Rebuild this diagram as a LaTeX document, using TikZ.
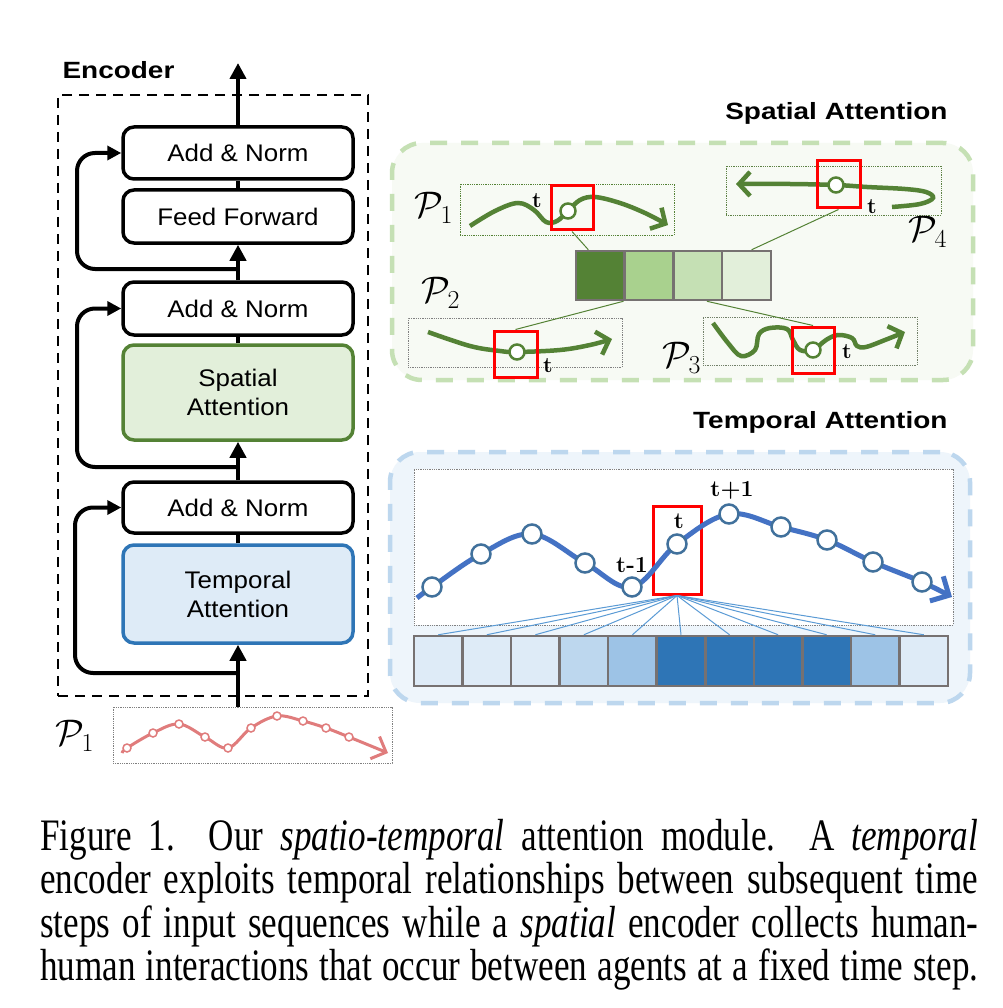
\RequirePackage{fix-cm}
\documentclass[tikz,border=0pt]{standalone}
\usepackage[no-math]{fontspec}
\setmainfont{Liberation Serif}
\setsansfont{Liberation Sans}
\newfontfamily\capfont{Liberation Serif}[FakeStretch=0.78]
\newfontfamily\titlefont{Liberation Sans}[FakeStretch=1.19]
\newfontfamily\boxfont{Liberation Sans}[FakeStretch=1.08]
\newfontfamily\lmfont{Latin Modern Roman}
\usetikzlibrary{arrows.meta,positioning}

\definecolor{sgreen}{HTML}{548235}
\definecolor{sgreenA}{HTML}{A9D18E}
\definecolor{sgreenB}{HTML}{C5E0B4}
\definecolor{sgreenC}{HTML}{E2EFDA}
\definecolor{spanel}{HTML}{F7FAF4}
\definecolor{tblue}{HTML}{2E75B6}
\definecolor{tblueA}{HTML}{9DC3E6}
\definecolor{tblueB}{HTML}{BDD7EE}
\definecolor{tblueC}{HTML}{DEEBF7}
\definecolor{tpanel}{HTML}{EEF5FB}
\definecolor{curveblue}{HTML}{4472C4}
\definecolor{dotblue}{HTML}{41719C}
\definecolor{fanblue}{HTML}{5B9BD5}
\definecolor{inred}{HTML}{E07C7C}
\definecolor{cellgray}{HTML}{767171}

\begin{document}
\begin{tikzpicture}[x=1pt, y=-1pt,
    block/.style={draw, rectangle, rounded corners=11pt, line width=3.5pt, minimum width=230pt, inner sep=0pt, font=\boxfont\fontsize{24}{29}\selectfont, align=center},
    arr/.style={line width=4pt, -{Triangle[length=16pt,width=16pt]}},
    res/.style={line width=4pt, rounded corners=18pt, -{Triangle[length=14pt,width=14pt]}},
    title/.style={anchor=east, font=\titlefont\bfseries\fontsize{23.5}{28}\selectfont},
    panel/.style={rectangle, rounded corners=30pt, line width=4.5pt, dash pattern=on 17pt off 14pt},
    trajbox/.style={draw, rectangle, densely dotted, line width=0.8pt, inner sep=0pt},
    redbox/.style={draw=red, rectangle, line width=3pt, inner sep=0pt},
    cell/.style={draw=cellgray, rectangle, line width=2.5pt, inner sep=0pt},
    sdot/.style={circle, draw=sgreen, fill=white, line width=2.5pt, minimum size=15pt, inner sep=0pt},
    tdot/.style={circle, draw=dotblue, fill=white, line width=2.5pt, minimum size=19pt, inner sep=0pt},
    rdot/.style={circle, draw=inred, fill=white, line width=1.5pt, minimum size=8pt, inner sep=0pt},
    plabel/.style={font=\fontsize{37}{37}\selectfont},
    tlabel/.style={font=\lmfont\bfseries\fontsize{22}{22}\selectfont}]
    \useasboundingbox (0,0) rectangle (1002,1008);
    \fill[white] (0,0) rectangle (1002,1008);

    % Encoder
    \node[draw, rectangle, dash pattern=on 10pt off 7pt, line width=2.5pt, minimum width=310pt, minimum height=601pt] (enc) at (213,395.5) {};
    \node[anchor=west, font=\titlefont\bfseries\fontsize{23.5}{28}\selectfont] (enctitle) at (59,70) {Encoder};
    \node[block, minimum height=52pt] (an1) at (238,153) {Add \& Norm};
    \node[block, minimum height=53pt] (ff) at (238,216.5) {Feed Forward};
    \node[block, minimum height=53pt] (an2) at (238,308.5) {Add \& Norm};
    \node[block, minimum height=95pt, draw=sgreen, fill=sgreenC] (sa) at (238,392.5) {Spatial\\Attention};
    \node[block, minimum height=51pt] (an3) at (238,507.5) {Add \& Norm};
    \node[block, minimum height=98pt, draw=tblue, fill=tblueC] (ta) at (238,594) {Temporal\\Attention};
    \coordinate (out) at (238,63);
    \coordinate (r1) at (238,269);
    \coordinate (r2) at (238,467);
    \coordinate (r3) at (238,673);

    % Input trajectory
    \node[trajbox, draw=gray, minimum width=279pt, minimum height=56pt] (inp) at (252.5,735) {};
    \node[plabel] (lp0) at (75,736) {$\mathcal{P}_1$};
    \draw[inred, line width=3pt, -{Straight Barb[length=12pt,width=24pt]}] plot[smooth, tension=0.6] coordinates {(122,753) (127,748) (153,733) (179,724) (205,737) (228,748) (251,728) (277,716) (303,721) (326,728) (349,737) (388,753)};
    \foreach \p [count=\i] in {(127,748),(153,733),(179,724),(205,737),(228,748),(251,728),(277,716),(303,721),(326,728),(349,737)}
        \node[rdot] (in\i) at \p {};

    % Encoder arrows
    \draw[arr] (an1.north) -- (out);
    \draw[line width=4pt] (ff) -- (an1);
    \draw[arr] (an2.north) -- (ff.south);
    \draw[line width=4pt] (sa) -- (an2);
    \draw[arr] (an3.north) -- (sa.south);
    \draw[line width=4pt] (ta) -- (an3);
    \draw[arr] (ta.south |- inp.north) -- (ta.south);
    \draw[res] (r1) -- ++(-161,0) |- (an1.west);
    \draw[res] (r2) -- ++(-161,0) |- (an2.west);
    \draw[res] (r3) -- ++(-163,0) |- (an3.west);

    % Spatial attention
    \node[panel, draw=sgreenB, fill=spanel, minimum width=581pt, minimum height=237pt] (sp) at (682.5,261.5) {};
    \node[title] (sptitle) at (951,113) {Spatial Attention};
    \node[trajbox, draw=sgreen, minimum width=214pt, minimum height=51pt] (p1box) at (567,209.5) {};
    \node[trajbox, draw=gray, minimum width=214pt, minimum height=49pt] (p2box) at (515,342.5) {};
    \node[trajbox, draw=gray!70!sgreen, minimum width=214pt, minimum height=48pt] (p3box) at (810,341) {};
    \node[trajbox, draw=sgreen!80!gray, minimum width=215pt, minimum height=49pt] (p4box) at (833.5,190.5) {};
    \foreach \c [count=\i] in {sgreen,sgreenA,sgreenB,sgreenC}
        \node[cell, fill=\c, minimum width=48.75pt, minimum height=49pt] (s\i) at (551.6+48.75*\i,275.5) {};

    \draw[sgreen, line width=4.5pt, -{Straight Barb[length=11pt,width=24pt]}] plot[smooth, tension=0.6] coordinates {(470,226) (495,211) (518,203) (534,210) (546,222) (557,221) (568,211) (580,200) (595,197) (620,203) (645,213) (668,225)};
    \draw[sgreen, line width=4.5pt, -{Straight Barb[length=11pt,width=24pt]}] plot[smooth, tension=0.6] coordinates {(428,332) (470,346) (500,351) (517,352) (560,350) (590,345) (612,339)};
    \draw[sgreen, line width=4.5pt, -{Straight Barb[length=11pt,width=24pt]}] plot[smooth, tension=0.6] coordinates {(713,323) (728,343) (741,356) (755,350) (759,334) (770,328) (787,329) (793,340) (800,350) (813,350) (826,340) (838,335) (852,338) (857,346) (866,347) (885,340) (905,332)};
    \draw[sgreen, line width=4.5pt, -{Straight Barb[length=11pt,width=24pt]}] plot[smooth, tension=0.6] coordinates {(892,207) (920,204) (933,198) (926,192) (905,189) (867,187) (836,185) (790,184) (736,184)};
    \node[sdot] (d1) at (568,211) {};
    \node[sdot] (d2) at (517,352) {};
    \node[sdot] (d3) at (813,350) {};
    \node[sdot, minimum width=12pt, minimum height=15pt] (d4) at (836,185) {};

    \node[redbox, minimum width=42pt, minimum height=44pt] (rb1) at (572,208) {};
    \node[redbox, minimum width=43pt, minimum height=46pt] (rb2) at (515.5,354) {};
    \node[redbox, minimum width=42pt, minimum height=46pt] (rb3) at (813,350) {};
    \node[redbox, minimum width=43pt, minimum height=47pt] (rb4) at (838.5,184.5) {};

    \node[plabel] (lp1) at (434,208) {$\mathcal{P}_1$};
    \node[plabel] (lp2) at (441,293) {$\mathcal{P}_2$};
    \node[plabel] (lp3) at (682,358) {$\mathcal{P}_3$};
    \node[plabel] (lp4) at (928,232) {$\mathcal{P}_4$};
    \node[tlabel] (t1) at (537,201) {t};
    \node[tlabel] (t2) at (548,366) {t};
    \node[tlabel] (t3) at (847,352) {t};
    \node[tlabel] (t4) at (872,207) {t};

    \draw[sgreen, line width=1pt] (rb1.south) -- ([xshift=-12pt]s1.north);
    \draw[sgreen, line width=1pt] (rb2.north) -- (s2.south west);
    \draw[sgreen, line width=1pt] (rb3.north) -- ([xshift=9pt]s3.south);
    \draw[sgreen, line width=1pt] (rb4.south) -- ([xshift=5pt]s4.north);

    % Temporal attention
    \node[panel, draw=tblueB, fill=tpanel, minimum width=580pt, minimum height=251pt] (tp) at (680,577.5) {};
    \node[title] (tptitle) at (951,422) {Temporal Attention};
    \node[trajbox, draw=gray, fill=white, minimum width=539pt, minimum height=156pt] (tbox) at (683.5,547) {};
    \foreach \c [count=\i] in {tblueC,tblueC,tblueC,tblueB,tblueA,tblue,tblue,tblue,tblue,tblueA,tblueC}
        \node[cell, fill=\c, minimum width=48.55pt, minimum height=50pt] (c\i) at (389.7+48.55*\i,661) {};
    \node[redbox, minimum width=48pt, minimum height=88pt] (tr) at (677,550) {};
    \foreach \i in {1,...,11}
        \draw[fanblue, line width=1pt] (tr.south) -- (c\i.north);
    \draw[curveblue, line width=5pt, -{Straight Barb[length=14pt,width=28pt]}] plot[smooth, tension=0.6] coordinates {(417,598) (432,587) (481,554) (532,534) (585,563) (632,587) (677,544) (729,514) (781,527) (827,540) (873,562) (922,582) (952,597)};
    \foreach \p [count=\i] in {(432,587),(481,554),(532,534),(585,563),(632,587),(677,544),(729,514),(781,527),(827,540),(873,562),(922,582)}
        \node[tdot] (k\i) at \p {};
    \node[tlabel, font=\lmfont\bfseries\fontsize{23}{23}\selectfont] (tm) at (632,565) {t-1};
    \node[tlabel, font=\lmfont\bfseries\fontsize{23}{23}\selectfont] (tt) at (679,521) {t};
    \node[tlabel, font=\lmfont\bfseries\fontsize{23}{23}\selectfont] (tp1) at (732,490) {t+1};

    % Caption
    \node[anchor=north west, inner sep=0pt, align=left, font=\capfont\fontsize{45}{43.5}\selectfont] (cap) at (40,819) {%
        \makebox[938pt][s]{Figure 1.\ \ Our \textit{spatio-temporal} attention module.\ \ A \textit{temporal}}\\
        \makebox[938pt][s]{encoder exploits temporal relationships between subsequent time}\\
        \makebox[938pt][s]{steps of input sequences while a \textit{spatial} encoder collects human-}\\
        \makebox[938pt][s]{human interactions that occur between agents at a fixed time step.}};
\end{tikzpicture}
\end{document}
